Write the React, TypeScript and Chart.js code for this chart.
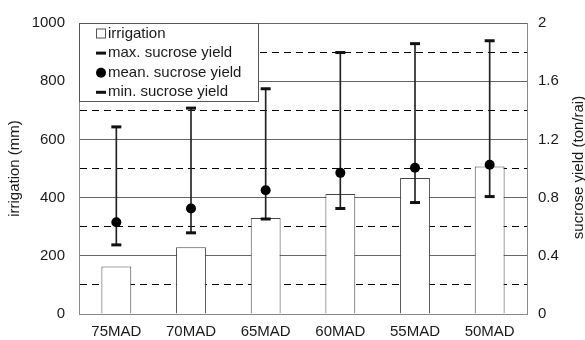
import React, { useEffect, useRef } from "react";
import { Chart, registerables } from "chart.js";

Chart.register(...registerables);

const categories = ["75MAD", "70MAD", "65MAD", "60MAD", "55MAD", "50MAD"];
const irrigation = [163, 229, 330, 412, 467, 507];
const meanYield = [0.63, 0.725, 0.85, 0.97, 1.005, 1.026];
const maxYield = [1.286, 1.415, 1.548, 1.797, 1.858, 1.878];
const minYield = [0.475, 0.558, 0.653, 0.725, 0.766, 0.807];

const leftTitle = "irrigation (mm)";
const rightTitle = "sucrose yield (ton/rai)";
const legendLabels = ["irrigation", "max. sucrose yield", "mean. sucrose yield", "min. sucrose yield"];

const FONT = "'Liberation Sans', Arial, sans-serif";
const TEXT = "#1a1a1a";

const legendPlugin = {
  id: "boxLegend",
  afterDraw(chart: any) {
    const ctx = chart.ctx;
    const area = chart.chartArea;
    const x0 = area.left;
    const y0 = area.top;
    const w = 179;
    const h = 78;
    ctx.save();
    ctx.fillStyle = "#fff";
    ctx.fillRect(x0, y0, w, h);
    ctx.strokeStyle = "#555";
    ctx.lineWidth = 1;
    ctx.strokeRect(x0 + 0.5, y0 + 0.5, w, h);
    ctx.font = `15px ${FONT}`;
    ctx.textBaseline = "middle";
    ctx.textAlign = "left";
    const textX = x0 + 29;
    const mx = x0 + 22;
    legendLabels.forEach((label, i) => {
      const cy = y0 + 10.5 + i * 19.6;
      ctx.fillStyle = TEXT;
      ctx.strokeStyle = "#111";
      if (i === 0) {
        ctx.fillStyle = "#fff";
        ctx.strokeStyle = "#555";
        ctx.lineWidth = 1;
        ctx.fillRect(mx - 4.5, cy - 4.5, 9, 9);
        ctx.strokeRect(mx - 4.5, cy - 4.5, 9, 9);
      } else if (i === 2) {
        ctx.fillStyle = "#000";
        ctx.beginPath();
        ctx.arc(mx, cy, 5, 0, Math.PI * 2);
        ctx.fill();
      } else {
        ctx.lineWidth = 3;
        ctx.beginPath();
        ctx.moveTo(mx - 5, cy);
        ctx.lineTo(mx + 5, cy);
        ctx.stroke();
      }
      ctx.fillStyle = TEXT;
      ctx.fillText(label, textX, cy);
    });
    ctx.restore();
  },
};

const rightTitlePlugin = {
  id: "rightTitle",
  afterDraw(chart: any) {
    const ctx = chart.ctx;
    const area = chart.chartArea;
    ctx.save();
    ctx.translate(579, (area.top + area.bottom) / 2 - 1);
    ctx.rotate(-Math.PI / 2);
    ctx.font = `15px ${FONT}`;
    ctx.fillStyle = TEXT;
    ctx.textAlign = "center";
    ctx.textBaseline = "middle";
    ctx.fillText(rightTitle, 0, 0);
    ctx.restore();
  },
};

export default function App() {
  const ref = useRef<HTMLCanvasElement | null>(null);
  useEffect(() => {
    if (!ref.current) return;
    Chart.defaults.font.family = FONT;
    Chart.defaults.font.size = 15;
    Chart.defaults.color = TEXT;
    const chart = new Chart(ref.current, {
      type: "bar",
      data: {
        labels: categories,
        datasets: [
          {
            type: "bar",
            label: legendLabels[0],
            data: irrigation,
            yAxisID: "y",
            backgroundColor: "#ffffff",
            borderColor: "#444",
            borderWidth: 1,
            barPercentage: 0.4,
            categoryPercentage: 1,
            grouped: false,
            order: 5,
          } as any,
          {
            type: "bar",
            label: "range",
            data: categories.map((_, i) => [minYield[i], maxYield[i]]),
            yAxisID: "y1",
            backgroundColor: "#222",
            borderWidth: 0,
            barThickness: 1,
            grouped: false,
            order: 4,
          } as any,
          {
            type: "line",
            label: legendLabels[1],
            data: maxYield,
            yAxisID: "y1",
            showLine: false,
            pointStyle: "line",
            pointRadius: 5,
            pointBorderWidth: 3,
            pointBorderColor: "#111",
            order: 3,
          } as any,
          {
            type: "line",
            label: legendLabels[3],
            data: minYield,
            yAxisID: "y1",
            showLine: false,
            pointStyle: "line",
            pointRadius: 5,
            pointBorderWidth: 3,
            pointBorderColor: "#111",
            order: 2,
          } as any,
          {
            type: "line",
            label: legendLabels[2],
            data: meanYield,
            yAxisID: "y1",
            showLine: false,
            pointStyle: "circle",
            pointRadius: 5,
            pointBorderWidth: 0,
            pointBackgroundColor: "#000",
            pointBorderColor: "#000",
            order: 1,
          } as any,
        ],
      },
      options: {
        animation: false,
        responsive: false,
        layout: { padding: { top: 19, left: 0, right: 0, bottom: 0 } },
        plugins: { legend: { display: false }, tooltip: { enabled: false } },
        scales: {
          x: {
            grid: { drawOnChartArea: false, drawTicks: false },
            border: { color: "#888", width: 1 },
            ticks: { padding: 9, color: TEXT, font: { size: 15 } },
            afterFit: (s: any) => {
              s.height = 26;
            },
          },
          y: {
            position: "left",
            min: 0,
            max: 1000,
            ticks: {
              stepSize: 100,
              padding: 14,
              color: TEXT,
              callback: (v: any) => (Number(v) % 200 === 0 ? String(v) : ""),
            },
            grid: {
              drawTicks: false,
              color: (c: any) => (c.tick && c.tick.value % 200 !== 0 ? "#000" : "#666"),
              lineWidth: 1,
            },
            border: {
              color: "#888",
              dash: (c: any) => (c.tick && c.tick.value % 200 !== 0 ? [7, 5] : []),
            },
            title: { display: true, text: leftTitle, padding: { top: 6, bottom: 0 }, color: TEXT, font: { size: 15 } },
            afterFit: (s: any) => {
              s.width = 79;
            },
          } as any,
          y1: {
            position: "right",
            min: 0,
            max: 2,
            ticks: {
              stepSize: 0.4,
              padding: 11,
              color: TEXT,
              callback: (v: any) => String(Number(Number(v).toFixed(1))),
            },
            grid: { drawOnChartArea: false, drawTicks: false },
            border: { color: "#888" },
            afterFit: (s: any) => {
              s.width = 58;
            },
          },
        },
      },
      plugins: [legendPlugin, rightTitlePlugin],
    });
    return () => chart.destroy();
  }, []);
  return (
    <div style={{ position: "absolute", left: 0, top: 0, width: 585, height: 340 }}>
      <canvas ref={ref} width={585} height={340} style={{ display: "block" }} />
    </div>
  );
}
